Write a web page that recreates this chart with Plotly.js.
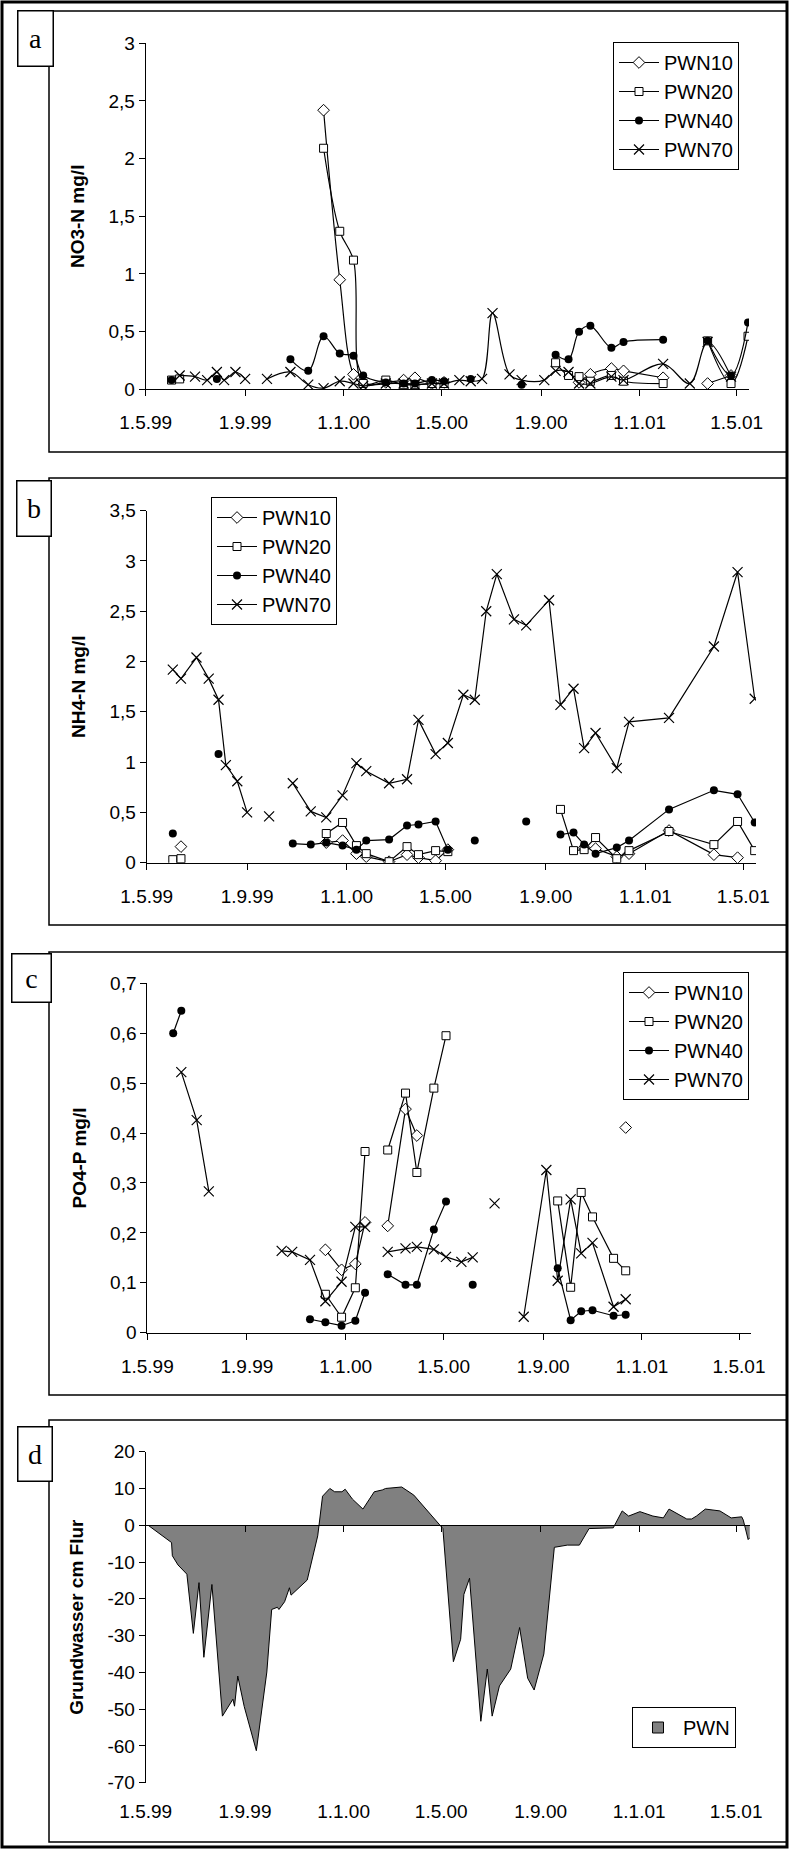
<!DOCTYPE html>
<html><head><meta charset="utf-8">
<script src="https://cdn.plot.ly/plotly-3.0.1.min.js"></script>
<style>html,body{margin:0;padding:0;background:#fff}</style>
</head><body><div id="chart" style="width:789px;height:1849px"></div>
<script>
// ---------- data ----------
const tickDates = ['1999-05-01','1999-09-01','2000-01-01','2000-05-01','2000-09-01','2001-01-01','2001-05-01'];
const tickLabels = ['1.5.99','1.9.99','1.1.00','1.5.00','1.9.00','1.1.01','1.5.01'];
const seriesNames = ['PWN10','PWN20','PWN40','PWN70'];

// panel a: NO3-N
const aDates = ['1999-06-02','1999-06-12','1999-07-01','1999-07-16','1999-07-28','1999-08-06','1999-08-20','1999-09-01','1999-09-14','1999-09-28','1999-10-27','1999-11-18','1999-12-07','1999-12-27','2000-01-13','2000-01-25','2000-02-22','2000-03-15','2000-03-29','2000-04-19','2000-05-04','2000-05-23','2000-06-06','2000-06-20','2000-07-03','2000-07-24','2000-08-08','2000-09-05','2000-09-19','2000-10-05','2000-10-18','2000-11-01','2000-11-27','2000-12-12','2001-01-30','2001-03-04','2001-03-26','2001-04-24','2001-05-15'];
const aPWN10 = [null,null,null,null,null,null,null,null,null,null,null,null,2.42,0.95,0.13,0.04,0.06,0.08,0.10,0.05,0.06,null,null,null,null,null,null,null,null,null,0.06,0.13,0.18,0.16,0.10,null,0.05,0.12,null];
const aPWN20 = [0.08,0.09,null,null,null,null,null,null,null,null,null,null,2.09,1.37,1.12,0.05,0.08,0.04,0.04,0.05,0.05,null,null,null,null,null,null,null,0.23,0.12,0.11,0.07,0.12,0.07,0.05,null,0.42,0.05,0.46];
const aPWN40 = [0.08,null,null,null,0.09,null,null,null,null,null,0.26,0.16,0.46,0.31,0.29,0.12,0.06,0.05,0.05,0.08,0.07,null,0.09,null,null,null,0.04,null,0.30,0.26,0.50,0.55,0.36,0.41,0.43,null,0.42,0.12,0.58];
const aPWN70 = [null,0.12,0.11,0.08,0.15,0.08,0.15,0.09,null,0.09,0.15,0.04,0.01,0.07,0.05,0.03,0.05,0.05,0.04,0.05,0.05,0.08,0.07,0.09,0.66,0.13,0.08,0.08,0.16,0.15,0.05,0.05,0.11,0.08,0.22,0.05,0.41,0.11,null];
const aTicks = [0,0.5,1,1.5,2,2.5,3];
const aTickText = ['0','0,5','1','1,5','2','2,5','3'];

// panel b: NH4-N
const bDates = ['1999-06-02','1999-06-12','1999-07-01','1999-07-16','1999-07-28','1999-08-06','1999-08-20','1999-09-01','1999-09-14','1999-09-28','1999-10-14','1999-10-27','1999-11-18','1999-12-07','1999-12-27','2000-01-13','2000-01-25','2000-02-22','2000-03-15','2000-03-29','2000-04-19','2000-05-04','2000-05-23','2000-06-06','2000-06-20','2000-07-03','2000-07-24','2000-08-08','2000-09-05','2000-09-19','2000-10-05','2000-10-18','2000-11-01','2000-11-27','2000-12-12','2001-01-30','2001-03-26','2001-04-24','2001-05-15'];
const bPWN10 = [null,0.16,null,null,null,null,null,null,null,null,null,null,null,0.20,0.22,0.09,0.06,0.01,0.08,0.05,0.02,0.13,null,null,null,null,null,null,null,null,null,0.15,0.14,0.06,0.09,0.32,0.08,0.05,null];
const bPWN20 = [0.03,0.04,null,null,null,null,null,null,null,null,null,null,null,0.29,0.40,0.17,0.09,0.01,0.16,0.08,0.12,0.11,null,null,null,null,null,null,null,0.53,0.12,0.13,0.25,0.04,0.12,0.31,0.18,0.41,0.12];
const bPWN40 = [0.29,null,null,null,1.08,null,null,null,null,null,null,0.19,0.18,0.20,0.17,0.13,0.22,0.23,0.37,0.38,0.41,0.13,null,0.22,null,null,null,0.41,null,0.28,0.30,0.18,0.09,0.15,0.22,0.53,0.72,0.68,0.40];
const bPWN70 = [1.92,1.83,2.04,1.83,1.62,0.97,0.81,0.50,null,0.46,null,0.79,0.51,0.45,0.67,0.99,0.91,0.79,0.83,1.42,1.08,1.19,1.67,1.62,2.50,2.87,2.42,2.36,2.61,1.57,1.73,1.14,1.29,0.94,1.40,1.44,2.15,2.89,1.63];
const bTicks = [0,0.5,1,1.5,2,2.5,3,3.5];
const bTickText = ['0','0,5','1','1,5','2','2,5','3','3,5'];

// panel c: PO4-P
const cDates = ['1999-06-02','1999-06-12','1999-07-01','1999-07-16','1999-07-28','1999-10-14','1999-10-27','1999-11-18','1999-12-07','1999-12-27','2000-01-13','2000-01-25','2000-02-08','2000-02-22','2000-03-15','2000-03-29','2000-04-19','2000-05-04','2000-05-23','2000-06-06','2000-06-20','2000-07-03','2000-07-24','2000-08-08','2000-09-05','2000-09-19','2000-10-05','2000-10-18','2000-11-01','2000-11-27','2000-12-12'];
const cPWN10 = [null,null,null,null,null,null,null,null,0.166,0.126,0.138,0.221,null,0.214,0.448,0.395,null,null,null,null,null,null,null,null,null,null,null,null,null,null,0.411];
const cPWN20 = [null,null,null,null,null,null,null,null,0.077,0.031,0.090,0.363,null,0.366,0.480,0.321,0.490,0.595,null,null,null,null,null,null,null,0.264,0.091,0.281,0.232,0.149,0.124];
const cPWN40 = [0.600,0.645,null,null,null,null,null,0.027,0.021,0.014,0.024,0.080,null,0.117,0.096,0.096,0.207,0.263,null,0.096,null,null,null,null,null,0.129,0.025,0.043,0.045,0.034,0.036];
const cPWN70 = [null,0.522,0.426,0.283,null,0.164,0.162,0.146,0.063,0.102,0.212,0.212,null,0.162,0.169,0.172,0.167,0.152,0.142,0.151,null,0.259,null,0.032,0.326,0.104,0.267,0.159,0.180,0.052,0.067];
const cTicks = [0,0.1,0.2,0.3,0.4,0.5,0.6,0.7];
const cTickText = ['0','0,1','0,2','0,3','0,4','0,5','0,6','0,7'];

// panel d: groundwater level (cm relative to surface)
const dDates = ['1999-05-04','1999-06-02','1999-06-03','1999-06-10','1999-06-21','1999-06-29','1999-07-06','1999-07-12','1999-07-22','1999-08-04','1999-08-17','1999-08-19','1999-08-23','1999-08-31','1999-09-15','1999-09-28','1999-10-04','1999-10-11','1999-10-13','1999-10-20','1999-10-26','1999-10-28','1999-11-17','1999-11-30','1999-12-06','1999-12-15','1999-12-21','1999-12-30','2000-01-03','2000-01-12','2000-01-25','2000-02-08','2000-02-18','2000-02-22','2000-03-13','2000-03-28','2000-05-03','2000-05-16','2000-05-25','2000-05-29','2000-06-05','2000-06-19','2000-06-27','2000-07-03','2000-07-12','2000-07-26','2000-08-06','2000-08-16','2000-08-24','2000-09-05','2000-09-18','2000-10-04','2000-10-19','2000-10-31','2000-11-30','2000-12-11','2000-12-19','2001-01-02','2001-01-18','2001-01-31','2001-02-07','2001-03-01','2001-03-07','2001-03-13','2001-03-24','2001-04-11','2001-04-25','2001-05-08','2001-05-10','2001-05-16','2001-05-18'];
const dLevel = [0,-4.7,-8.3,-10.8,-13.3,-29.4,-15.6,-35.9,-16.1,-51.9,-47.3,-49.2,-41,-49.3,-61.3,-39.9,-22.9,-22.3,-22.9,-20.8,-17,-19,-14.9,-2.9,7.9,10,9.1,9.1,9.8,7.1,4.4,9.1,9.6,10,10.4,8.2,-0.9,-37.1,-31,-18.8,-14.4,-53.3,-39.1,-51.9,-43.7,-39.1,-27.8,-41.6,-44.8,-35,-6,-5.4,-5.4,-0.9,-0.7,3.9,2.5,3.7,2.5,2.0,4.4,1.7,1.7,2.5,4.4,3.9,2.0,2.3,1.4,-3.9,-3.4];
const dTicks = [-70,-60,-50,-40,-30,-20,-10,0,10,20];
const dTickText = ['-70','-60','-50','-40','-30','-20','-10','0','10','20'];

// ---------- layout helpers ----------
const W = 789, H = 1849;
const px = x => x / W;
const py = y => 1 - y / H;
const FONT = 'Liberation Sans, Arial, sans-serif';
const SERIF = 'Liberation Serif, Times New Roman, serif';

const markerStyles = [
  {symbol:'diamond', size:9, color:'white', line:{color:'black', width:1}},
  {symbol:'square', size:8, color:'white', line:{color:'black', width:1}},
  {symbol:'circle', size:8, color:'black', line:{color:'black', width:0}},
  {symbol:'x-thin-open', size:10, color:'black', line:{color:'black', width:1.2}}
];

function panelTraces(dates, values, xa, ya, leg, shape) {
  return values.map((v, i) => ({
    type:'scatter', mode:'lines+markers', name:seriesNames[i],
    x:dates, y:v, xaxis:xa, yaxis:ya, legend:leg, legendgroup:leg + i,
    line:{color:'black', width:1.2, shape:shape, smoothing:1},
    marker:markerStyles[i], connectgaps:false, hoverinfo:'skip'
  }));
}

const traces = [].concat(
  panelTraces(aDates, [aPWN10, aPWN20, aPWN40, aPWN70], 'x', 'y', 'legend', 'spline'),
  panelTraces(bDates, [bPWN10, bPWN20, bPWN40, bPWN70], 'x2', 'y2', 'legend2', 'linear'),
  panelTraces(cDates, [cPWN10, cPWN20, cPWN40, cPWN70], 'x3', 'y3', 'legend3', 'linear'),
  [
    {type:'scatter', mode:'lines', x:dDates, y:dLevel, xaxis:'x4', yaxis:'y4',
     fill:'tozeroy', fillcolor:'#808080', line:{color:'black', width:1},
     showlegend:false, hoverinfo:'skip'},
    {type:'scatter', mode:'markers', name:'PWN', x:[null], y:[null], xaxis:'x4', yaxis:'y4',
     legend:'legend4', marker:{symbol:'square', size:11, color:'#808080', line:{color:'black', width:1}},
     hoverinfo:'skip'},
    {type:'scatter', mode:'lines', x:[dDates[0]], y:[null], xaxis:'x5', yaxis:'y4',
     showlegend:false, hoverinfo:'skip'}
  ]
);

function xAxis(x0, x1, endDate, anchor, extra) {
  return Object.assign({
    type:'date', domain:[px(x0), px(x1)], range:['1999-05-01', endDate], anchor:anchor,
    tickmode:'array', tickvals:tickDates, ticktext:tickLabels,
    showline:true, linecolor:'black', linewidth:1, mirror:false,
    ticks:'outside', ticklen:6, tickcolor:'black', tickwidth:1,
    tickfont:{family:FONT, size:19, color:'black'}, ticklabelstandoff:10,
    showgrid:false, zeroline:false, automargin:false, fixedrange:true
  }, extra || {});
}
function yAxis(yBottom, yTop, range, tv, tt, title, anchor) {
  return {
    domain:[py(yBottom), py(yTop)], range:range, anchor:anchor,
    tickmode:'array', tickvals:tv, ticktext:tt,
    showline:true, linecolor:'black', linewidth:1,
    ticks:'outside', ticklen:6, tickcolor:'black', tickwidth:1,
    tickfont:{family:FONT, size:19, color:'black'},
    showgrid:false, zeroline:false, automargin:false, fixedrange:true,
    title:{text:title, font:{family:FONT, size:19, color:'black', weight:'bold'}, standoff:18}
  };
}
function legendAt(x, y, anchor) {
  return {x:px(x), y:py(y), xanchor:anchor || 'left', yanchor:'top', bgcolor:'white',
    bordercolor:'black', borderwidth:1, font:{family:FONT, size:20, color:'black'},
    tracegroupgap:7, itemwidth:40, traceorder:'normal'};
}

const yD = yAxis(1782.7, 1451.7, [-70, 20], dTicks, dTickText, 'Grundwasser cm Flur', 'x4');
const zeroPos = yD.domain[0] + (0 - yD.range[0]) / (yD.range[1] - yD.range[0]) * (yD.domain[1] - yD.domain[0]);

function rect(x0, y0, x1, y1, w) {
  return {type:'rect', xref:'paper', yref:'paper', x0:px(x0), x1:px(x1), y0:py(y1), y1:py(y0),
    line:{color:'black', width:w}, fillcolor:'rgba(0,0,0,0)'};
}
function letter(t, cx, cy, w, h) {
  return {text:t, xref:'paper', yref:'paper', x:px(cx), y:py(cy), xanchor:'center', yanchor:'middle',
    showarrow:false, width:w, height:h, bgcolor:'white', bordercolor:'black', borderwidth:1.5, borderpad:0,
    font:{family:SERIF, size:28, color:'black'}};
}

const layout = {
  width:W, height:H, margin:{l:0, r:0, t:0, b:0},
  paper_bgcolor:'white', plot_bgcolor:'white', hovermode:false, showlegend:true,
  font:{family:FONT, color:'black'},
  xaxis: xAxis(145.7, 749, '2001-05-16 05:00', 'y'),
  yaxis: yAxis(389.3, 43.3, [0, 3], aTicks, aTickText, 'NO3-N mg/l', 'x'),
  xaxis2: xAxis(146.7, 756, '2001-05-16 14:00', 'y2'),
  yaxis2: yAxis(862.7, 510.7, [0, 3.5], bTicks, bTickText, 'NH4-N mg/l', 'x2'),
  xaxis3: xAxis(147.3, 751, '2001-05-15 19:00', 'y3'),
  yaxis3: yAxis(1332.7, 983.3, [0, 0.7], cTicks, cTickText, 'PO4-P mg/l', 'x3'),
  xaxis4: xAxis(145.7, 750, '2001-05-18 07:00', 'y4', {showline:false, ticks:'', ticklabelstandoff:15}),
  yaxis4: yD,
  xaxis5: xAxis(145.7, 750, '2001-05-18 07:00', 'free', {overlaying:'x4', position:zeroPos, showticklabels:false}),
  legend: legendAt(613, 42),
  legend2: legendAt(211, 497),
  legend3: legendAt(623, 972),
  legend4: legendAt(736, 1707, 'right'),
  shapes:[
    rect(2, 2, 787, 1847, 3),
    rect(49, 11, 787, 452, 1.5),
    rect(49, 478, 787, 925, 1.5),
    rect(49, 952, 787, 1395, 1.5),
    rect(49, 1420, 787, 1842, 1.5)
  ],
  annotations:[
    letter('a', 35, 38, 34, 54),
    letter('b', 33.5, 508, 33, 54),
    letter('c', 32, 978.5, 38, 47),
    letter('d', 34.5, 1453.5, 33, 53)
  ]
};

Plotly.newPlot('chart', traces, layout, {staticPlot:true, displayModeBar:false});
</script></body></html>
